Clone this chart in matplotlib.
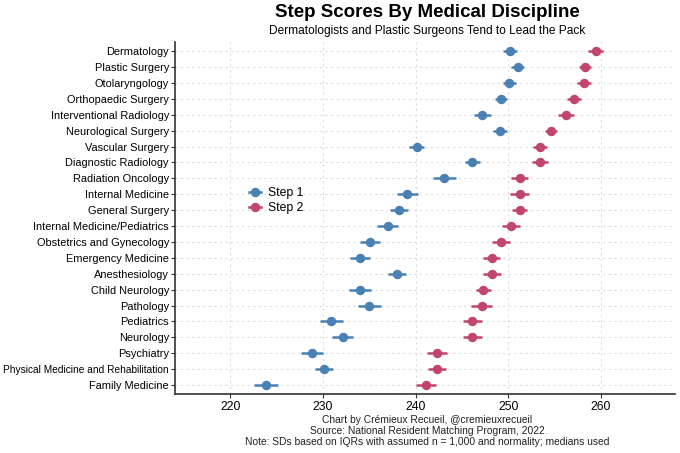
import matplotlib
matplotlib.use('Agg')
import matplotlib.pyplot as plt
from matplotlib.lines import Line2D

plt.rcParams['font.family'] = ['Liberation Sans', 'DejaVu Sans']

disciplines = ['Dermatology', 'Plastic Surgery', 'Otolaryngology', 'Orthopaedic Surgery',
               'Interventional Radiology', 'Neurological Surgery', 'Vascular Surgery',
               'Diagnostic Radiology', 'Radiation Oncology', 'Internal Medicine',
               'General Surgery', 'Internal Medicine/Pediatrics', 'Obstetrics and Gynecology',
               'Emergency Medicine', 'Anesthesiology', 'Child Neurology', 'Pathology',
               'Pediatrics', 'Neurology', 'Psychiatry', 'Physical Medicine and Rehabilitation',
               'Family Medicine']
step1 = [250.2, 251.0, 250.1, 249.2, 247.2, 249.1, 240.1, 246.1, 243.1, 239.1,
         238.2, 237.0, 235.1, 234.0, 238.0, 234.0, 235.0, 230.9, 232.1, 228.8, 230.1, 223.8]
step1_err = [0.75, 0.67, 0.72, 0.65, 0.9, 0.8, 0.78, 0.82, 1.2, 1.14,
             1.0, 1.14, 1.09, 1.09, 1.0, 1.18, 1.25, 1.23, 1.16, 1.18, 1.0, 1.29]
step2 = [259.4, 258.3, 258.2, 257.1, 256.2, 254.6, 253.4, 253.4, 251.2, 251.2,
         251.2, 250.3, 249.2, 248.2, 248.2, 247.3, 247.1, 246.1, 246.1, 242.3, 242.3, 241.1]
step2_err = [0.8, 0.65, 0.76, 0.74, 0.83, 0.69, 0.78, 0.83, 0.9, 1.0,
             0.85, 0.94, 0.94, 0.9, 0.96, 0.8, 1.12, 1.03, 1.0, 1.05, 1.0, 1.09]
caption = ['Chart by Crémieux Recueil, @cremieuxrecueil',
           'Source: National Resident Matching Program, 2022',
           'Note: SDs based on IQRs with assumed n = 1,000 and normality; medians used']

blue = '#4A81B5'
red = '#C2456D'

fig = plt.figure(figsize=(6.8, 4.53), dpi=100)
ax = fig.add_axes([0.257, 0.130, 0.736, 0.777])

ypos = list(range(len(disciplines)))[::-1]
ax.errorbar(step1, ypos, xerr=step1_err, fmt='o', color=blue, ms=5.8, elinewidth=1.8, capsize=0, zorder=3)
ax.errorbar(step2, ypos, xerr=step2_err, fmt='o', color=red, ms=5.8, elinewidth=1.8, capsize=0, zorder=3)

ax.set_yticks(ypos)
ax.set_yticklabels(disciplines, fontsize=7.9)
# the longest label is shrunk a little so it stays inside the figure
for lab in ax.get_yticklabels():
    if len(lab.get_text()) > 30:
        lab.set_fontsize(7.3)
ax.set_xticks([220, 230, 240, 250, 260])
ax.tick_params(axis='x', labelsize=8.8, length=3, color='#333333', pad=2)
ax.tick_params(axis='y', length=3, color='#333333', pad=1.2)
ax.set_xlim(214, 268)
ax.set_ylim(-0.57, len(disciplines) - 0.43)

ax.grid(True, linestyle=(0, (2, 3)), color='#DDDDDD', linewidth=0.8)
ax.set_axisbelow(True)
for s in ['top', 'right']:
    ax.spines[s].set_visible(False)
for s in ['left', 'bottom']:
    ax.spines[s].set_color('#333333')
    ax.spines[s].set_linewidth(1.2)

handles = [Line2D([], [], color=blue, marker='o', ms=5.8, lw=1.8),
           Line2D([], [], color=red, marker='o', ms=5.8, lw=1.8)]
ax.legend(handles, ['Step 1', 'Step 2'], loc='center left', bbox_to_anchor=(0.136, 0.55),
          frameon=False, fontsize=8.8, handlelength=1.0, handletextpad=0.55,
          labelspacing=0.25, borderpad=0)

fig.text(0.628, 0.973, 'Step Scores By Medical Discipline', ha='center', va='center',
         fontsize=13.5, fontweight='bold')
fig.text(0.628, 0.931, 'Dermatologists and Plastic Surgeons Tend to Lead the Pack',
         ha='center', va='center', fontsize=8.6)
for i, line in enumerate(caption):
    fig.text(0.628, 1 - (420 + 11 * i) / 453, line, ha='center', va='center',
             fontsize=7.4, color='#222222')

fig.savefig('out.png', dpi=100)
